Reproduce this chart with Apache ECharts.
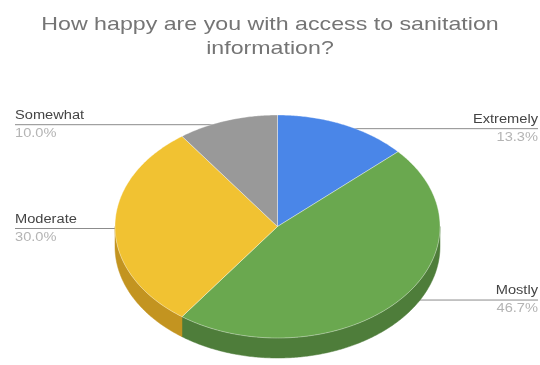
<!DOCTYPE html>
<html>
<head>
<meta charset="utf-8">
<script src="https://cdn.jsdelivr.net/npm/echarts@6/dist/echarts.min.js"></script>
<style>
html,body{margin:0;padding:0;background:#fff;}
#chart{width:540px;height:365px;}
</style>
</head>
<body>
<div id="chart"></div>
<script>
const titleText = 'How happy are you with access to sanitation\ninformation?';
const categories = ['Extremely', 'Mostly', 'Moderate', 'Somewhat'];
const values = [13.3, 46.7, 30.0, 10.0];
const colors = ['#4a86e8', '#6aa84f', '#f1c232', '#999999'];
const sideColors = ['#3b6cc0', '#4e7d3a', '#c39420', '#7a7a7a'];

const total = values.reduce((a, b) => a + b, 0);
const starts = [];
let acc = 0;
values.forEach(v => { starts.push(acc); acc += v; });

const CX = 277.5, CY = 226.5, RX = 162.5, RY = 111.5, DEPTH = 20;
const FONT = 'Liberation Sans, Arial, sans-serif';
const STRETCH = 1.22;

function pt(theta, r, dy) {
  return [CX + RX * r * Math.sin(theta), CY - RY * r * Math.cos(theta) + (dy || 0)];
}
function arc(a, b, r, dy) {
  const pts = [];
  const n = Math.max(2, Math.ceil((b - a) / 0.01));
  for (let k = 0; k <= n; k++) pts.push(pt(a + (b - a) * k / n, r, dy));
  return pts;
}

function renderItem(params, api) {
  const i = params.dataIndex;
  const v = api.value(0);
  const a = starts[i] / total * Math.PI * 2;
  const b = (starts[i] + v) / total * Math.PI * 2;
  const children = [];
  const s = Math.max(a, Math.PI / 2), e = Math.min(b, Math.PI * 1.5);
  if (e > s) {
    const top = arc(s, e, 1, 0);
    const bot = arc(s, e, 1, DEPTH).reverse();
    children.push({
      type: 'polygon', z2: 5,
      shape: { points: top.concat(bot) },
      style: { fill: sideColors[i], stroke: sideColors[i], lineWidth: 0.5 }
    });
  }
  children.push({
    type: 'polygon', z2: 10,
    shape: { points: [[CX, CY]].concat(arc(a, b, 1, 0)) },
    style: { fill: colors[i], stroke: '#ffffff', lineWidth: 0.6, strokeOpacity: 0.6 }
  });
  const mid = (a + b) / 2;
  const anchor = pt(mid, 0.96, 0);
  const right = Math.sin(mid) > 0;
  const endX = right ? 538 : 15;
  const ly = anchor[1] + (Math.cos(mid) < 0 ? 2 : 0);
  children.push({
    type: 'line', z2: 1,
    shape: { x1: anchor[0], y1: ly, x2: endX, y2: ly },
    style: { stroke: '#8c8c8c', lineWidth: 1 }
  });
  children.push({
    type: 'text', z2: 20, x: endX, y: ly - 3, scaleX: STRETCH,
    style: {
      x: 0, y: 0, text: categories[i],
      align: right ? 'right' : 'left', verticalAlign: 'bottom',
      fill: '#444444', font: '12px ' + FONT
    }
  });
  children.push({
    type: 'text', z2: 20, x: endX, y: ly + 3, scaleX: STRETCH,
    style: {
      x: 0, y: 0, text: (v / total * 100).toFixed(1) + '%',
      align: right ? 'right' : 'left', verticalAlign: 'top',
      fill: '#b4b4b4', font: '12px ' + FONT
    }
  });
  return { type: 'group', children: children };
}

const chart = echarts.init(document.getElementById('chart'), null, { renderer: 'canvas' });
chart.setOption({
  backgroundColor: '#ffffff',
  animation: false,
  graphic: [{
    type: 'text',
    x: 270, y: 13, scaleX: STRETCH,
    style: {
      x: 0, y: 0, text: titleText,
      align: 'center', verticalAlign: 'top',
      fill: '#757575', font: '19px ' + FONT, lineHeight: 24
    }
  }],
  series: [{
    type: 'custom',
    coordinateSystem: 'none',
    renderItem: renderItem,
    data: values.map((v, i) => ({ name: categories[i], value: [v] }))
  }]
});
</script>
</body>
</html>
